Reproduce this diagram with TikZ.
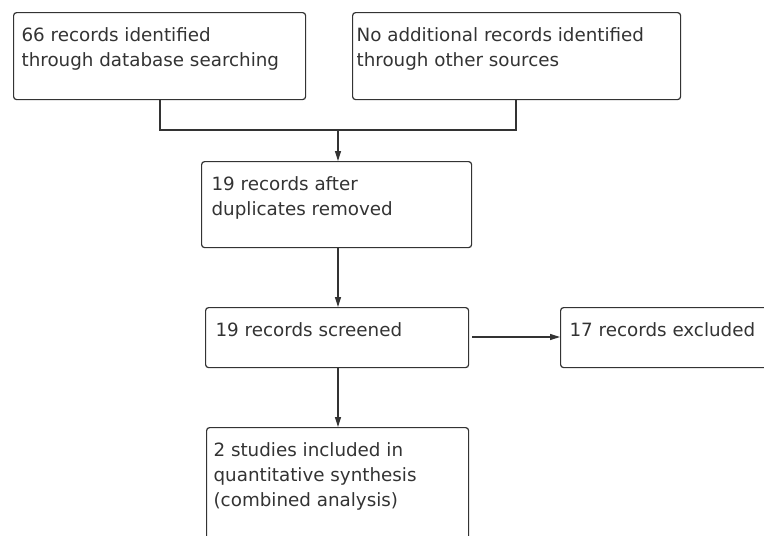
\documentclass[tikz,border=0pt]{standalone}
\usepackage{fontspec}
\setmainfont{DejaVu Sans}
\usetikzlibrary{arrows.meta}
\definecolor{ink}{HTML}{333333}
\newcommand{\boxtxt}[4]{\parbox[c][#2][t]{#1}{\fontsize{18.3pt}{25pt}\selectfont\leftskip=#3\rightskip=0pt plus 1fil\parindent=0pt\rule{0pt}{29pt}#4}}
\tikzset{
  flowbox/.style={draw=ink, line width=1.2pt, rounded corners=3pt, inner sep=0pt, anchor=north west, text=ink},
  conn/.style={draw=ink, line width=1.2pt},
  arr/.style={conn, -{Triangle[length=10pt,width=6pt]}}
}
\begin{document}
\begin{tikzpicture}[x=1pt,y=-1pt]
\useasboundingbox (0,0) rectangle (764,536);
\clip (0,0) rectangle (764,536);
\node[flowbox] (b1) at (13,12) {\boxtxt{292pt}{87pt}{8pt}{66 records identified\\through database searching}};
\node[flowbox] (b2) at (352,12) {\boxtxt{328pt}{87pt}{4pt}{No additional records identified\\through other sources}};
\node[flowbox] (b3) at (201,161) {\boxtxt{270pt}{86pt}{10pt}{19 records after\\duplicates removed}};
\node[flowbox] (b4) at (205,307) {\boxtxt{263pt}{60pt}{10pt}{19 records screened}};
\node[flowbox] (b5) at (560,307) {\boxtxt{230pt}{60pt}{9pt}{17 records excluded}};
\node[flowbox] (b6) at (206,427) {\boxtxt{262pt}{125pt}{7pt}{2 studies included in\\quantitative synthesis\\(combined analysis)}};
\coordinate (j1) at (160,130);
\coordinate (j2) at (516,130);
\coordinate (jm) at (338,130);
\coordinate (hx) at (472,337);
\draw[conn] (b1.south -| j1) -- (j1) -- (j2) -- (b2.south -| j2);
\draw[arr] (jm) -- (jm |- b3.north);
\draw[arr] (b3.south -| jm) -- (b4.north -| jm);
\draw[arr] (b4.south -| jm) -- (b6.north -| jm);
\draw[arr] (hx) -- (b5.west |- hx);
\end{tikzpicture}
\end{document}
